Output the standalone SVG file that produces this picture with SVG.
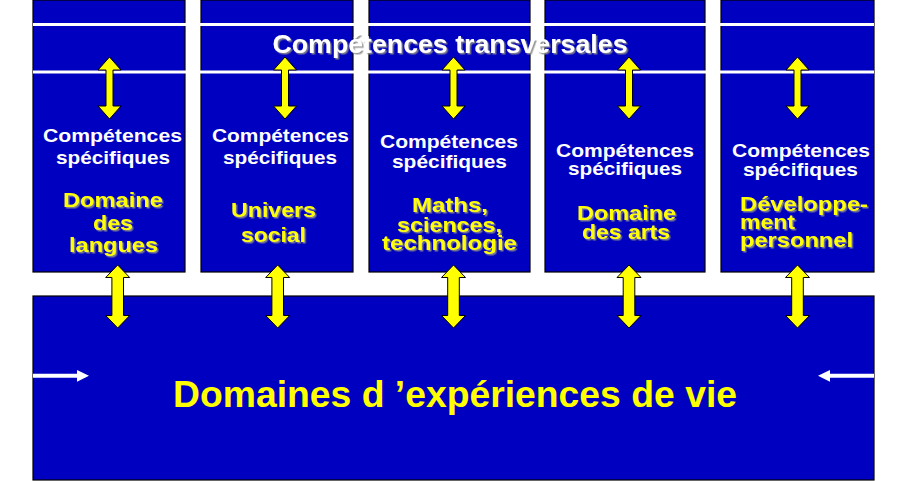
<svg xmlns="http://www.w3.org/2000/svg" width="915" height="481" viewBox="0 0 915 481">
<defs>
<style>
.box{fill:#0000C0;stroke:#000;stroke-width:1.2}
.sep{stroke:#fff;stroke-width:3}
.wt{font-family:"Liberation Sans",Arial,sans-serif;font-weight:bold;fill:#fff;font-size:19px;text-anchor:middle}
.yt{font-family:"Liberation Sans",Arial,sans-serif;font-weight:bold;fill:#FFFF00;font-size:21px;text-anchor:middle}
.yl{text-anchor:start}
.title{font-family:"Liberation Sans",Arial,sans-serif;font-weight:bold;fill:#fff;font-size:25px;text-anchor:middle}
.big{font-family:"Liberation Sans",Arial,sans-serif;font-weight:bold;fill:#FFFF00;font-size:36px;text-anchor:middle}
.arr{fill:#FFFF00;stroke:#000;stroke-width:1}
.warr{fill:#fff}
</style>
<filter id="sh" x="-10%" y="-30%" width="130%" height="170%">
<feDropShadow dx="1.5" dy="1.5" stdDeviation="0.7" flood-color="#8a8a8a" flood-opacity="0.9"/>
</filter>
</defs>
<rect width="915" height="481" fill="#fff"/>

<g id="col1">
<rect class="box" x="33" y="0" width="152" height="272"/>
</g>
<g id="col2">
<rect class="box" x="201" y="0" width="152" height="272"/>
</g>
<g id="col3">
<rect class="box" x="369" y="0" width="161" height="272"/>
</g>
<g id="col4">
<rect class="box" x="545" y="0" width="160" height="272"/>
</g>
<g id="col5">
<rect class="box" x="721" y="0" width="153" height="272"/>
</g>

<g id="transversales">
<line class="sep" x1="33" y1="24.5" x2="874" y2="24.5"/>
<line class="sep" x1="33" y1="72" x2="874" y2="72"/>
</g>

<g id="experiences">
<rect class="box" x="33" y="296" width="841" height="184"/>
<path class="warr" d="M33 373.7 H77 V370 L89 375.8 L77 381.7 V377.8 H33 Z"/>
<path class="warr" d="M874 373.7 H830 V370 L818 375.8 L830 381.7 V377.8 H874 Z"/>
<text class="big" x="455" y="407" textLength="564" lengthAdjust="spacingAndGlyphs">Domaines d ’expériences de vie</text>
</g>

<g id="connectors">
<path class="arr" d="M109.5 57 L121 70 H113 V106 H121 L109.5 119 L98 106 H106 V70 H98 Z"/>
<path class="arr" d="M285 57 L296.5 70 H288.5 V106 H296.5 L285 119 L273.5 106 H281.5 V70 H273.5 Z"/>
<path class="arr" d="M453.5 57 L465 70 H457 V106 H465 L453.5 119 L442 106 H450 V70 H442 Z"/>
<path class="arr" d="M629 57 L640.5 70 H632.5 V106 H640.5 L629 119 L617.5 106 H625.5 V70 H617.5 Z"/>
<path class="arr" d="M797.5 57 L809 70 H801 V106 H809 L797.5 119 L786 106 H794 V70 H786 Z"/>

<path class="arr" d="M117.7 265 L129.7 277.5 H123.5 V315.5 H129.7 L117.7 328 L105.7 315.5 H111.9 V277.5 H105.7 Z"/>
<path class="arr" d="M277.7 265 L289.7 277.5 H283.5 V315.5 H289.7 L277.7 328 L265.7 315.5 H271.9 V277.5 H265.7 Z"/>
<path class="arr" d="M453.5 265 L465.5 277.5 H459.3 V315.5 H465.5 L453.5 328 L441.5 315.5 H447.7 V277.5 H441.5 Z"/>
<path class="arr" d="M629 265 L641 277.5 H634.8 V315.5 H641 L629 328 L617 315.5 H623.2 V277.5 H617 Z"/>
<path class="arr" d="M797.5 265 L809.5 277.5 H803.3 V315.5 H809.5 L797.5 328 L785.5 315.5 H791.7 V277.5 H785.5 Z"/>
</g>

<g id="labels">
<text class="title" x="450" y="53" textLength="355" lengthAdjust="spacingAndGlyphs" filter="url(#sh)">Compétences transversales</text>

<g id="col1-text">
<text class="wt" x="112.5" y="142" textLength="139" lengthAdjust="spacingAndGlyphs">Compétences</text>
<text class="wt" x="113" y="164" textLength="114" lengthAdjust="spacingAndGlyphs">spécifiques</text>
<g filter="url(#sh)">
<text class="yt" x="113" y="207" textLength="100" lengthAdjust="spacingAndGlyphs">Domaine</text>
<text class="yt" x="113" y="230" textLength="40" lengthAdjust="spacingAndGlyphs">des</text>
<text class="yt" x="113.5" y="252" textLength="89" lengthAdjust="spacingAndGlyphs">langues</text>
</g>
</g>

<g id="col2-text">
<text class="wt" x="280.5" y="142" textLength="137" lengthAdjust="spacingAndGlyphs">Compétences</text>
<text class="wt" x="280" y="164" textLength="114" lengthAdjust="spacingAndGlyphs">spécifiques</text>
<g filter="url(#sh)">
<text class="yt" x="273.5" y="217" textLength="85" lengthAdjust="spacingAndGlyphs">Univers</text>
<text class="yt" x="273.5" y="242" textLength="65" lengthAdjust="spacingAndGlyphs">social</text>
</g>
</g>

<g id="col3-text">
<text class="wt" x="449" y="148" textLength="138" lengthAdjust="spacingAndGlyphs">Compétences</text>
<text class="wt" x="449.5" y="168" textLength="115" lengthAdjust="spacingAndGlyphs">spécifiques</text>
<g filter="url(#sh)">
<text class="yt" x="450" y="212" textLength="76" lengthAdjust="spacingAndGlyphs">Maths,</text>
<text class="yt" x="449.5" y="231.5" textLength="105" lengthAdjust="spacingAndGlyphs">sciences,</text>
<text class="yt" x="449.5" y="250" textLength="135" lengthAdjust="spacingAndGlyphs">technologie</text>
</g>
</g>

<g id="col4-text">
<text class="wt" x="625" y="157" textLength="138" lengthAdjust="spacingAndGlyphs">Compétences</text>
<text class="wt" x="625" y="175" textLength="114" lengthAdjust="spacingAndGlyphs">spécifiques</text>
<g filter="url(#sh)">
<text class="yt" x="626.5" y="220" textLength="99" lengthAdjust="spacingAndGlyphs">Domaine</text>
<text class="yt" x="626" y="239" textLength="88" lengthAdjust="spacingAndGlyphs">des arts</text>
</g>
</g>

<g id="col5-text">
<text class="wt" x="801" y="157" textLength="138" lengthAdjust="spacingAndGlyphs">Compétences</text>
<text class="wt" x="800.5" y="176" textLength="115" lengthAdjust="spacingAndGlyphs">spécifiques</text>
<g filter="url(#sh)">
<text class="yt yl" x="740" y="211" textLength="128" lengthAdjust="spacingAndGlyphs">Développe-</text>
<text class="yt yl" x="740" y="229" textLength="55" lengthAdjust="spacingAndGlyphs">ment</text>
<text class="yt yl" x="740" y="247" textLength="113" lengthAdjust="spacingAndGlyphs">personnel</text>
</g>
</g>
</g>
</svg>
